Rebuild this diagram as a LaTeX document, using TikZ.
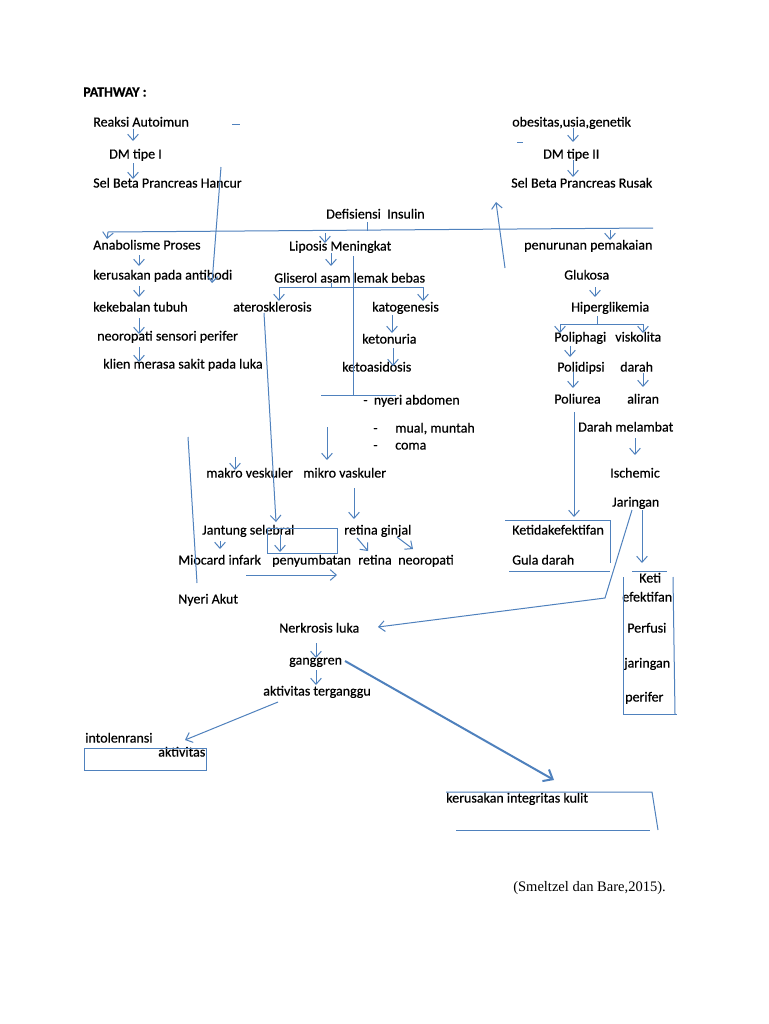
\documentclass[tikz,border=0pt]{standalone}
\usepackage{fontspec}
\setmainfont{Carlito}[FakeBold=0.5]
\newfontfamily\citefont{Liberation Serif}
\usetikzlibrary{arrows.meta}
\definecolor{lb}{HTML}{4F81BD}
\begin{document}
\begin{tikzpicture}[x=0.75pt,y=-0.75pt,
  t/.style={anchor=base west,inner sep=0pt,yshift=-3.4pt,font=\fontsize{10.5pt}{12pt}\selectfont},
  ln/.style={draw=lb,line width=0.75pt},
  arr/.style={ln,-{Straight Barb[length=4.5pt,width=8pt]}},
  thk/.style={draw=lb,line width=1.5pt,-{Straight Barb[length=6pt,width=10pt]}}]
\useasboundingbox[fill=white] (0,0) rectangle (768,1024);
% ---- texts
\node[t,font=\fontsize{10.5pt}{12pt}\selectfont\bfseries] (pathway) at (83,92) {PATHWAY :};
\node[t] (reaksi) at (93,122) {Reaksi Autoimun};
\node[t] (dm1) at (109,154) {DM tipe I};
\node[t] (selh) at (93,183) {Sel Beta Prancreas Hancur};
\node[t] (obes) at (512,122) {obesitas,usia,genetik};
\node[t] (dm2) at (543,154) {DM tipe II};
\node[t] (selr) at (511,183) {Sel Beta Prancreas Rusak};
\node[t] (defi) at (326,214) {Defisiensi\ \ Insulin};
\node[t] (anab) at (93,245) {Anabolisme Proses};
\node[t] (lipo) at (289,246) {Liposis Meningkat};
\node[t] (penu) at (524,245) {penurunan pemakaian};
\node[t] (keru) at (93,275) {kerusakan pada antibodi};
\node[t] (glis) at (274,278) {Gliserol asam lemak bebas};
\node[t] (gluk) at (564,275) {Glukosa};
\node[t] (kekeb) at (93,307) {kekebalan tubuh};
\node[t] (ater) at (233,307) {aterosklerosis};
\node[t] (kato) at (372,307) {katogenesis};
\node[t] (hipe) at (571,307) {Hiperglikemia};
\node[t] (neo) at (97,336) {neoropati sensori perifer};
\node[t] (keton) at (362,339) {ketonuria};
\node[t] (polip) at (554,337) {Poliphagi};
\node[t] (visk) at (615,337) {viskolita};
\node[t] (klien) at (103,364) {klien merasa sakit pada luka};
\node[t] (ketoa) at (342,367) {ketoasidosis};
\node[t] (polid) at (557,367) {Polidipsi};
\node[t] (darah) at (620,367) {darah};
\node[t] (nyeriab) at (363,400) {-\ \ nyeri abdomen};
\node[t] (poliu) at (554,399) {Poliurea};
\node[t] (aliran) at (627,399) {aliran};
\node[t] (d1) at (373,428) {-};
\node[t] (mual) at (395,428) {mual, muntah};
\node[t] (darahm) at (578,427) {Darah melambat};
\node[t] (d2) at (373,445) {-};
\node[t] (coma) at (395,445) {coma};
\node[t] (makro) at (206,473) {makro veskuler};
\node[t] (mikro) at (303,473) {mikro vaskuler};
\node[t] (isch) at (610,473) {Ischemic};
\node[t] (jar) at (612,502) {Jaringan};
\node[t] (jant) at (202,530) {Jantung selebral};
\node[t] (retg) at (344,530) {retina ginjal};
\node[t] (ketid) at (512,530) {Ketidakefektifan};
\node[t] (mioc) at (178,560) {Miocard infark};
\node[t] (peny) at (272,560) {penyumbatan};
\node[t] (ret) at (358,560) {retina};
\node[t] (neor) at (398,560) {neoropati};
\node[t] (gula) at (512,560) {Gula darah};
\node[t] (keti) at (639,578) {Keti};
\node[t] (efek) at (622,597) {efektifan};
\node[t] (nyak) at (178,599) {Nyeri Akut};
\node[t] (perf) at (627,628) {Perfusi};
\node[t] (nerk) at (279,628) {Nerkrosis luka};
\node[t] (gang) at (289,660) {ganggren};
\node[t] (jar2) at (624,663) {jaringan};
\node[t] (akti) at (263,691) {aktivitas terganggu};
\node[t] (perifer) at (625,697) {perifer};
\node[t] (intol) at (85,738) {intolenransi};
\node[t] (aktv) at (158,752) {aktivitas};
\node[t] (kulit) at (446,798) {kerusakan integritas kulit};
\node[anchor=base west,inner sep=0pt,yshift=-3.6pt,font=\citefont\fontsize{10.9pt}{12pt}\selectfont] (cite) at (513,887) {(Smeltzel dan Bare,2015).};
% ---- connectors
\draw[arr] (133,129) -- (133,141);
\draw[arr] (133,163) -- (133,179);
\draw[arr] (573,128) -- (573,142);
\draw[arr] (573,160) -- (573,177);
\draw[ln] (232,124) -- (240,124);
\draw[ln] (517,142) -- (523,142);
\draw[ln] (108,232) -- (653,228);
\draw[ln] (367,222) -- (367,230.5);
\draw[arr] (108,232) -- (107,239);
\draw[arr] (325,233) -- (325,243);
\draw[arr] (610,230) -- (610,240);
\draw[arr] (221,167) -- (212,283);
\draw[arr] (505,268) -- (496,202);
\draw[arr] (139,255) -- (139,266);
\draw[arr] (139,286) -- (139,297);
\draw[arr] (139,318) -- (139,334);
\draw[arr] (139,347) -- (139,362);
\draw[arr] (331,253) -- (331,266);
\draw[ln] (331,283) -- (331,287);
\draw[ln] (279,287) -- (423,287);
\draw[arr] (279,287) -- (279,301);
\draw[arr] (423,287) -- (423,301);
\draw[ln] (353,256) -- (353,395);
\draw[ln] (321,395) -- (396,395);
\draw[arr] (392,315) -- (392,333);
\draw[arr] (393,348) -- (393,366);
\draw[arr] (264,313) -- (276,522);
\draw[ln] (188,437) -- (197,583);
\draw[arr] (327,427) -- (327,460);
\draw[arr] (235,457) -- (235,470);
\draw[arr] (354,488) -- (354,519);
\draw[ln] (267,528) rectangle (337,553);
\draw[arr] (280,535) -- (280,552);
\draw[arr] (220,541) -- (220,549);
\draw[arr] (357,538) -- (368,551);
\draw[arr] (397,537) -- (413,549);
\draw[arr] (246,575) -- (337,575);
\draw[arr] (595,287) -- (595,297);
\draw[ln] (597,316) -- (597,324);
\draw[ln] (560,324) -- (643,324);
\draw[arr] (560,324) -- (560,333);
\draw[arr] (643,324) -- (643,333);
\draw[arr] (570,346) -- (570,357);
\draw[arr] (573,372) -- (573,388);
\draw[arr] (643,373) -- (643,387);
\draw[arr] (574,412) -- (574,517);
\draw[arr] (635,438) -- (635,455);
\draw[ln] (505,520) -- (610,520) -- (610,563);
\draw[ln] (509,571) -- (610,571);
\draw[arr] (632,510) -- (605,598) -- (378,627);
\draw[arr] (642,510) -- (642,563);
\draw[ln] (632,571) -- (667,571);
\draw[ln] (623,577) -- (623,714) -- (677,714);
\draw[ln] (673,577) -- (675,714);
\draw[arr] (316,643) -- (316,658);
\draw[arr] (316,670) -- (316,685);
\draw[thk] (345,661) -- (554,780);
\draw[arr] (278,702) -- (185,740);
\draw[ln] (84,748) rectangle (206,770);
\draw[ln] (446,792) -- (652,792) -- (658,830);
\draw[ln] (456,830) -- (650,830);
\end{tikzpicture}
\end{document}
